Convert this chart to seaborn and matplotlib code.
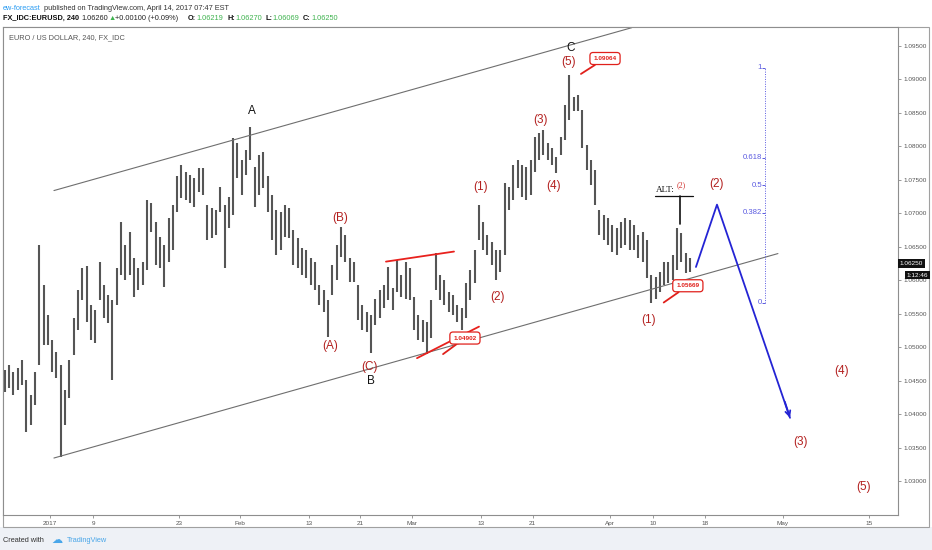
import numpy as np
import pandas as pd
import matplotlib.pyplot as plt
import matplotlib.transforms as mtransforms
from matplotlib.patches import Rectangle
import seaborn as sns

bar_high = [1.0467, 1.0474, 1.0464, 1.0470, 1.0481, 1.0452, 1.0429, 1.0464, 1.0653, 1.0593,
            1.0549, 1.0511, 1.0493, 1.0474, 1.0437, 1.0481, 1.0544, 1.0586, 1.0619, 1.0622,
            1.0564, 1.0556, 1.0628, 1.0593, 1.0578, 1.0571, 1.0619, 1.0687, 1.0653, 1.0672,
            1.0634, 1.0619, 1.0628, 1.0720, 1.0716, 1.0687, 1.0665, 1.0653, 1.0693, 1.0713,
            1.0755, 1.0772, 1.0762, 1.0757, 1.0753, 1.0768, 1.0768, 1.0713, 1.0708, 1.0705,
            1.0740, 1.0713, 1.0725, 1.0813, 1.0805, 1.0780, 1.0795, 1.0829, 1.0769, 1.0787,
            1.0792, 1.0755, 1.0728, 1.0705, 1.0702, 1.0713, 1.0708, 1.0675, 1.0663, 1.0649,
            1.0646, 1.0634, 1.0628, 1.0593, 1.0586, 1.0571, 1.0623, 1.0653, 1.0680, 1.0668,
            1.0634, 1.0628, 1.0593, 1.0564, 1.0553, 1.0549, 1.0572, 1.0586, 1.0593, 1.0620,
            1.0589, 1.0631, 1.0608, 1.0628, 1.0619, 1.0575, 1.0549, 1.0541, 1.0538, 1.0571,
            1.0641, 1.0608, 1.0601, 1.0583, 1.0578, 1.0564, 1.0559, 1.0596, 1.0616, 1.0646,
            1.0713, 1.0687, 1.0668, 1.0657, 1.0646, 1.0646, 1.0746, 1.0740, 1.0772, 1.0780,
            1.0772, 1.0769, 1.0780, 1.0814, 1.0820, 1.0825, 1.0805, 1.0798, 1.0784, 1.0814,
            1.0862, 1.0906, 1.0874, 1.0877, 1.0854, 1.0802, 1.0780, 1.0765, 1.0705, 1.0698,
            1.0693, 1.0683, 1.0678, 1.0687, 1.0693, 1.0690, 1.0683, 1.0668, 1.0672, 1.0660,
            1.0608, 1.0605, 1.0613, 1.0628, 1.0628, 1.0638, 1.0678, 1.0671, 1.0641, 1.0634]
bar_low = [1.0434, 1.0440, 1.0429, 1.0437, 1.0444, 1.0374, 1.0384, 1.0414, 1.0474, 1.0504,
           1.0504, 1.0464, 1.0455, 1.0337, 1.0384, 1.0425, 1.0489, 1.0526, 1.0571, 1.0538,
           1.0511, 1.0507, 1.0571, 1.0544, 1.0537, 1.0452, 1.0564, 1.0608, 1.0601, 1.0608,
           1.0575, 1.0586, 1.0593, 1.0616, 1.0672, 1.0623, 1.0619, 1.0590, 1.0628, 1.0646,
           1.0702, 1.0723, 1.0720, 1.0716, 1.0710, 1.0732, 1.0728, 1.0660, 1.0663, 1.0668,
           1.0702, 1.0619, 1.0678, 1.0698, 1.0753, 1.0728, 1.0757, 1.0780, 1.0710, 1.0728,
           1.0738, 1.0702, 1.0660, 1.0638, 1.0646, 1.0665, 1.0663, 1.0623, 1.0619, 1.0608,
           1.0604, 1.0593, 1.0586, 1.0564, 1.0553, 1.0516, 1.0578, 1.0601, 1.0635, 1.0628,
           1.0598, 1.0598, 1.0541, 1.0526, 1.0523, 1.0492, 1.0534, 1.0544, 1.0559, 1.0571,
           1.0556, 1.0583, 1.0575, 1.0572, 1.0571, 1.0526, 1.0511, 1.0508, 1.0490, 1.0514,
           1.0586, 1.0571, 1.0564, 1.0553, 1.0549, 1.0538, 1.0526, 1.0544, 1.0571, 1.0596,
           1.0660, 1.0646, 1.0638, 1.0623, 1.0601, 1.0613, 1.0638, 1.0705, 1.0720, 1.0738,
           1.0725, 1.0720, 1.0728, 1.0762, 1.0780, 1.0787, 1.0780, 1.0772, 1.0760, 1.0787,
           1.0810, 1.0840, 1.0852, 1.0852, 1.0798, 1.0765, 1.0743, 1.0713, 1.0668, 1.0660,
           1.0653, 1.0643, 1.0638, 1.0649, 1.0653, 1.0646, 1.0646, 1.0634, 1.0628, 1.0604,
           1.0567, 1.0572, 1.0583, 1.0593, 1.0596, 1.0601, 1.0616, 1.0628, 1.0611, 1.0613]
first_bar_day = -5.25   # business days relative to 2017-01-02
bar_step = 0.5

tick_dates = ['2017-01-02', '2017-01-09', '2017-01-23', '2017-02-01', '2017-02-13', '2017-02-21',
              '2017-03-01', '2017-03-13', '2017-03-21', '2017-04-03', '2017-04-10', '2017-04-18',
              '2017-05-01', '2017-05-15']
tick_labels = ['2017', '9', '23', 'Feb', '13', '21', 'Mar', '13', '21', 'Apr', '10', '18', 'May', '15']
price_ticks = [1.030, 1.035, 1.040, 1.045, 1.050, 1.055, 1.060, 1.065, 1.070, 1.075, 1.080, 1.085, 1.090, 1.095]

# drawings (day index, price)
channel_upper_day = [0.46, 67.5]
channel_upper_price = [1.0734, 1.0977]
channel_lower_day = [0.46, 84.45]
channel_lower_price = [1.0335, 1.0640]
red_upper_day = [38.98, 46.87]
red_upper_price = [1.0628, 1.0643]
red_lower_day = [42.58, 49.77]
red_lower_price = [1.0484, 1.0531]
path_day = [74.94, 77.38, 85.85]
path_price = [1.0620, 1.0713, 1.0395]
fib_low, fib_high = 1.05669, 1.0917
fib_levels = [0, 0.382, 0.5, 0.618, 1]
last_price = 1.06250

sns.set_theme(style='white')
plt.rcParams['font.family'] = ['Liberation Sans', 'DejaVu Sans']

W, H = 932, 550
fig = plt.figure(figsize=(W / 100, H / 100), dpi=100, facecolor='#eef1f6')


def fx(px):
    return px / W


def fy(py):
    return 1 - py / H


fig.patches.append(Rectangle((0, fy(527)), 1, 1 - fy(527), transform=fig.transFigure,
                             facecolor='white', edgecolor='none', zorder=-3))
fig.patches.append(Rectangle((fx(3), fy(527)), fx(929) - fx(3), fy(27) - fy(527), transform=fig.transFigure,
                             facecolor='white', edgecolor='#a0a0a0', lw=0.8, zorder=-2))

ax = fig.add_axes([fx(3), fy(515), fx(898) - fx(3), fy(27) - fy(515)])
ax.set_facecolor('white')

bars = pd.DataFrame({'high': bar_high, 'low': bar_low})
bars['day'] = first_bar_day + bar_step * np.arange(len(bars))
ax.vlines(bars['day'], bars['low'], bars['high'], color='#555555', lw=1.5, zorder=2)

# channel
ch_up = pd.DataFrame({'day': channel_upper_day, 'price': channel_upper_price})
ch_lo = pd.DataFrame({'day': channel_lower_day, 'price': channel_lower_price})
sns.lineplot(data=ch_up, x='day', y='price', ax=ax, color='#6e6e6e', lw=0.8)
sns.lineplot(data=ch_lo, x='day', y='price', ax=ax, color='#6e6e6e', lw=0.8)

# red wedge lines
for d, p in [(red_upper_day, red_upper_price), (red_lower_day, red_lower_price)]:
    sns.lineplot(x=d, y=p, ax=ax, color='#e8211d', lw=1.3)

# projected path
proj = pd.DataFrame({'day': path_day, 'price': path_price})
sns.lineplot(data=proj, x='day', y='price', ax=ax, color='#2424d4', lw=1.3, sort=False)
ax.annotate('', xy=(path_day[2], path_price[2]),
            xytext=(path_day[2] - 0.6, path_price[2] + 0.0024),
            arrowprops=dict(arrowstyle='->', color='#2424d4', lw=1.3, mutation_scale=9,
                            shrinkA=0, shrinkB=0))

# fib retracement
fib_x = 82.95
fib_color = '#5a5ae0'
ax.vlines(fib_x, fib_low, fib_high, color=fib_color, lw=0.7, linestyles=(0, (1, 1.5)))
for lv in fib_levels:
    p = fib_low + lv * (fib_high - fib_low)
    ax.hlines(p, fib_x - 0.3, fib_x, color=fib_color, lw=0.7)
    ax.text(fib_x - 0.35, p, f'{lv:g}', color=fib_color, fontsize=5.6, ha='right', va='center')

# wave labels
red = '#b3201f'
wave_labels = [('(5)', 60.21, 1.0926), ('(3)', 56.96, 1.0840), ('(4)', 58.47, 1.0741),
               ('(1)', 50.0, 1.0740), ('(2)', 51.97, 1.0575), ('(B)', 33.64, 1.0693),
               ('(A)', 32.48, 1.0502), ('(C)', 37.12, 1.0471), ('(1)', 69.49, 1.0541),
               ('(2)', 77.38, 1.0744), ('(3)', 87.12, 1.0359), ('(4)', 91.88, 1.0465),
               ('(5)', 94.43, 1.0292)]
for t, d, p in wave_labels:
    ax.text(d, p, t, color=red, fontsize=8.5, ha='center', va='center')
for t, d, p in [('A', 23.43, 1.0852), ('C', 60.44, 1.0947), ('B', 37.24, 1.0450)]:
    ax.text(d, p, t, color='#111111', fontsize=8.5, ha='center', va='center')

# ALT (2)
ax.text(71.35, 1.07345, 'ALT:', family=['Liberation Serif', 'DejaVu Serif'], fontsize=6.6,
        color='#111111', ha='center', va='center')
ax.text(73.2, 1.0742, '(2)', family=['Liberation Serif', 'DejaVu Serif'], fontsize=5.8,
        color='#d0302c', ha='center', va='center')
ax.plot([70.19, 74.59], [1.0726, 1.0726], color='#111111', lw=0.9)
ax.plot([73.09, 73.09], [1.0726, 1.0684], color='#111111', lw=1.2)


def price_callout(text, tip, box):
    ax.annotate(text, xy=tip, xytext=box, ha='center', va='center', fontsize=4.6,
                fontweight='bold', color='#e0201b', zorder=5,
                bbox=dict(boxstyle='round,pad=0.55,rounding_size=0.5', fc='white', ec='#e0201b', lw=0.9),
                arrowprops=dict(arrowstyle='-', color='#e0201b', lw=1.3, shrinkA=0, shrinkB=0))


price_callout('1.09064', (61.6, 1.0908), (64.39, 1.0931))
price_callout('1.04902', (45.6, 1.0490), (48.14, 1.0514))
price_callout('1.05669', (71.2, 1.0567), (74.0, 1.0592))

# axes
ax.set_xlim(-5.45, 98.38)
ax.set_ylim(1.0250, 1.0978)
ax.set_xlabel('')
ax.set_ylabel('')
tick_pos = np.busday_count('2017-01-02', tick_dates)
ax.set_xticks(tick_pos)
ax.set_xticklabels(tick_labels)
ax.yaxis.tick_right()
ax.set_yticks(price_ticks)
ax.set_yticklabels([f'{v:.5f}' for v in price_ticks])
ax.tick_params(axis='both', which='both', length=2.5, width=0.6, color='#888888',
               labelsize=4.6, labelcolor='#555555', pad=1.5, direction='out')
ax.tick_params(axis='x', bottom=True)
ax.tick_params(axis='y', right=True)
for s in ax.spines.values():
    s.set_color('#8e8e8e')
    s.set_linewidth(0.8)

# last price tags
blend = mtransforms.blended_transform_factory(ax.transAxes, ax.transData)
ax.text(1.002, last_price, '1.06250', transform=blend, fontsize=4.6, color='white', ha='left', va='center',
        bbox=dict(boxstyle='square,pad=0.3', fc='#111111', ec='none'), clip_on=False, zorder=6)
ax.text(1.0335, 1.0608, '1:12:46', transform=blend, fontsize=4.6, color='white', ha='right', va='center',
        bbox=dict(boxstyle='square,pad=0.3', fc='#111111', ec='none'), clip_on=False, zorder=6)

# header
fig.text(fx(3), fy(8), 'ew-forecast', color='#2b9cf2', fontsize=5.3, va='center')
fig.text(fx(44), fy(8), 'published on TradingView.com, April 14, 2017 07:47 EST', color='#333333',
         fontsize=5.3, va='center')
green = '#3fb34f'
header2 = [(3, 'FX_IDC:EURUSD, 240', '#111111', 'bold'), (81, '1.06260', '#222222', 'normal'),
           (109, '▲', green, 'normal'), (115, '+0.00100 (+0.09%)', '#222222', 'normal'),
           (188, 'O:', '#111111', 'bold'), (196, '1.06219', green, 'normal'),
           (227, 'H:', '#111111', 'bold'), (235, '1.06270', green, 'normal'),
           (265, 'L:', '#111111', 'bold'), (272, '1.06069', green, 'normal'),
           (303, 'C:', '#111111', 'bold'), (311, '1.06250', green, 'normal')]
for x0, t, c, w in header2:
    fig.text(fx(x0), fy(18.5), t, color=c, fontsize=5.3, fontweight=w, va='center')
fig.text(fx(9), fy(38), 'EURO / US DOLLAR, 240, FX_IDC', color='#555555', fontsize=5.3, va='center')

# footer
fig.text(fx(3), fy(540), 'Created with', color='#333333', fontsize=5.3, va='center')
fig.text(fx(51), fy(540), '☁', color='#49a6e9', fontsize=8, va='center', family=['DejaVu Sans'])
fig.text(fx(67), fy(540), 'TradingView', color='#49a6e9', fontsize=5.3, va='center')

fig.savefig('out.png', dpi=100, facecolor=fig.get_facecolor())
